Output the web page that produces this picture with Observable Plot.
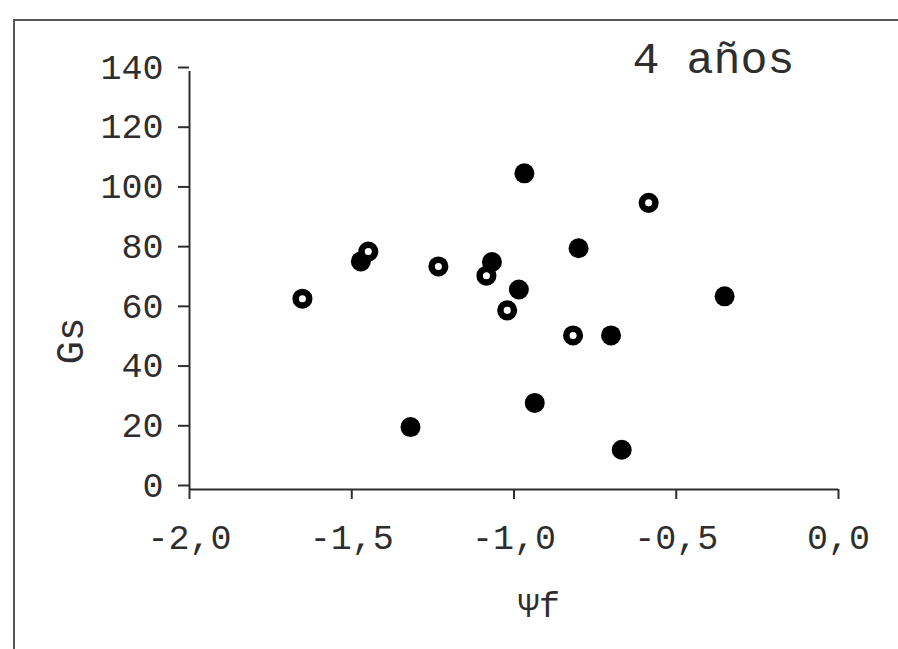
<!DOCTYPE html>
<html>
<head>
<meta charset="utf-8">
<script src="https://cdn.jsdelivr.net/npm/d3@7"></script>
<script src="https://cdn.jsdelivr.net/npm/@observablehq/plot@0.6"></script>
<style>
  html, body { margin: 0; padding: 0; background: #fff; overflow: hidden; }
  #wrap { position: relative; width: 898px; height: 649px; overflow: hidden; }
  #frame { position: absolute; left: 13px; top: 19px; width: 1000px; height: 1000px;
           border: 2px solid #555; box-sizing: border-box; }
  #chart { position: absolute; left: 0; top: 0; }
</style>
</head>
<body>
<div id="wrap"><div id="frame"></div><div id="chart"></div></div>
<script>
// Filled (solid) circles: Ψf, Gs
const filledX = [-0.968, -0.801, -1.472, -1.068, -0.985, -0.351, -0.701, -0.936, -1.319, -0.668];
const filledY = [105.9, 80.8, 76.4, 76.2, 67.0, 64.7, 51.6, 29.0, 20.9, 13.3];
// Open circles
const openX = [-0.585, -1.449, -1.233, -1.652, -1.085, -1.021, -0.818];
const openY = [96.0, 79.7, 74.7, 63.9, 71.6, 60.0, 51.6];
const xTicks = [-2, -1.5, -1, -0.5, 0];
const yTicks = [0, 20, 40, 60, 80, 100, 120, 140];
const title = "4 años";
const xLabel = "Ψf";
const yLabel = "Gs";

const filled = filledX.map((x, i) => ({x, y: filledY[i]}));
const open = openX.map((x, i) => ({x, y: openY[i]}));
const fmt = d => (d < 0 ? "-" : "") + Math.abs(d).toFixed(1).replace(".", ",");
const ink = "#2e2e2e";

const chart = Plot.plot({
  width: 898,
  height: 649,
  marginLeft: 189,
  marginRight: 60,
  marginTop: 71,
  marginBottom: 160,
  style: {fontFamily: "'Liberation Mono', monospace", fontSize: "35px", background: "transparent", color: ink},
  x: {domain: [-2, 0]},
  y: {domain: [0, 140]},
  marks: [
    Plot.axisY({ticks: yTicks, tickSize: 11, tickPadding: 15, strokeWidth: 2, stroke: ink, fill: ink, label: null, dy: -4}),
    Plot.axisX({ticks: xTicks, tickSize: 10, tickPadding: 25, strokeWidth: 2, stroke: ink, fill: ink, label: null, tickFormat: fmt}),
    Plot.ruleX([-2], {stroke: ink, strokeWidth: 2}),
    Plot.ruleY([0], {stroke: ink, strokeWidth: 2}),
    Plot.dot(filled, {x: "x", y: "y", r: 10, fill: "black", stroke: "none"}),
    Plot.dot(open, {x: "x", y: "y", r: 6.8, fill: "white", stroke: "black", strokeWidth: 6.5}),
    Plot.text([title], {frameAnchor: "top-right", text: d => d, textAnchor: "end", lineAnchor: "middle", dx: -44, dy: -13, fontSize: 45, fill: ink}),
    Plot.text([xLabel], {frameAnchor: "bottom", text: d => d, lineAnchor: "middle", dx: 25, dy: 116, fill: ink}),
    Plot.text([yLabel], {frameAnchor: "left", text: d => d, rotate: -90, lineAnchor: "middle", dx: -119, dy: 84, fontSize: 39, fill: ink})
  ]
});
document.getElementById("chart").appendChild(chart);
</script>
</body>
</html>
